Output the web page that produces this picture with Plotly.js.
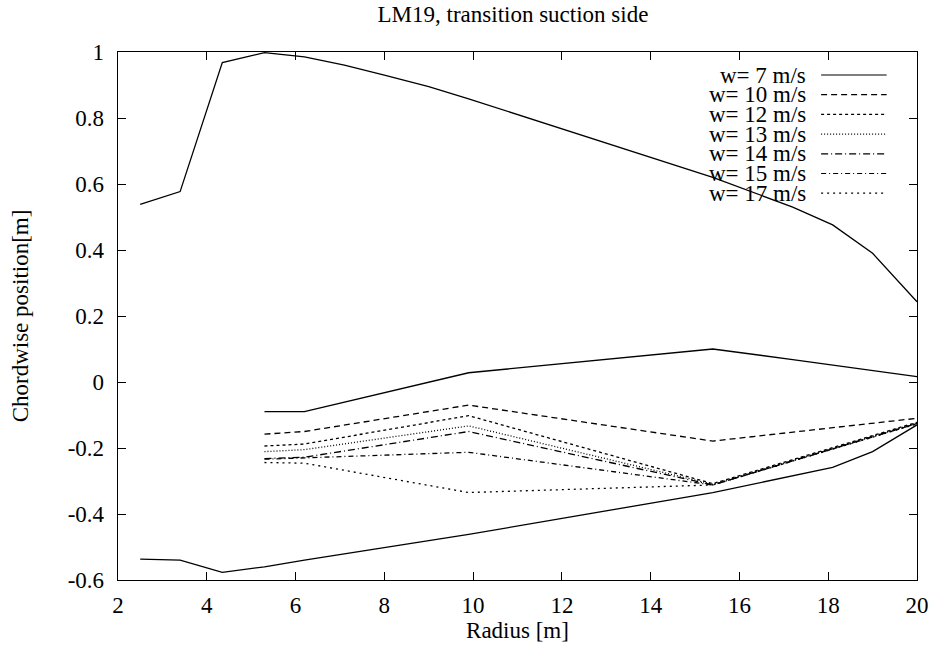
<!DOCTYPE html>
<html>
<head>
<meta charset="utf-8">
<script src="https://cdn.plot.ly/plotly-3.0.1.min.js"></script>
<style>body{margin:0;background:#fff}#chart{width:931px;height:659px}</style>
</head>
<body>
<div id="chart"></div>
<script>
// ---- data ----
const seriesNames = ["w= 7 m/s", "w= 10 m/s", "w= 12 m/s", "w= 13 m/s", "w= 14 m/s", "w= 15 m/s", "w= 17 m/s"];

// w = 7 m/s: three branches (upper, middle, lower)
const r7Upper = [2.5, 3.4, 4.35, 5.3, 6.2, 7.1, 8.0, 9.0, 9.9, 15.4, 17.2, 18.1, 19.0, 20];
const y7Upper = [0.538, 0.577, 0.968, 0.998, 0.985, 0.96, 0.93, 0.895, 0.858, 0.62, 0.53, 0.476, 0.39, 0.243];
const r7Middle = [5.3, 6.2, 9.9, 15.4, 17.2, 18.1, 19.0, 20];
const y7Middle = [-0.09, -0.09, 0.028, 0.100, 0.068, 0.052, 0.035, 0.016];
const r7Lower = [2.5, 3.4, 4.35, 5.3, 6.2, 7.1, 8.0, 9.0, 9.9, 15.4, 17.2, 18.1, 19.0, 20];
const y7Lower = [-0.537, -0.540, -0.577, -0.560, -0.540, -0.521, -0.502, -0.481, -0.462, -0.335, -0.285, -0.259, -0.211, -0.130];

// other wind speeds
const rOther = [5.3, 6.2, 9.9, 15.4, 20];
const y10 = [-0.158, -0.150, -0.070, -0.179, -0.110];
const y12 = [-0.194, -0.188, -0.102, -0.308, -0.122];
const y13 = [-0.211, -0.205, -0.133, -0.310, -0.124];
const y14 = [-0.232, -0.228, -0.150, -0.312, -0.125];
const y15 = [-0.234, -0.230, -0.213, -0.312, -0.126];
const y17 = [-0.244, -0.246, -0.335, -0.312, -0.127];

const xTickVals = [2, 4, 6, 8, 10, 12, 14, 16, 18, 20];
const yTickVals = [-0.6, -0.4, -0.2, 0, 0.2, 0.4, 0.6, 0.8, 1];
const yTickText = ["-0.6", "-0.4", "-0.2", "0", "0.2", "0.4", "0.6", "0.8", "1"];

// ---- styles ----
const dashes = ["solid", "6px,4px", "3px,3px", "1px,2px", "7px,3px,1px,3px", "5px,3px,1px,3px", "2px,4px"];
const FONT = "Liberation Serif";
const FS = 23;

const x7 = r7Upper.concat([null], r7Middle, [null], r7Lower);
const yy7 = y7Upper.concat([null], y7Middle, [null], y7Lower);
const otherY = [y10, y12, y13, y14, y15, y17];

const traces = [{
  x: x7, y: yy7, mode: "lines", name: seriesNames[0], connectgaps: false,
  line: {color: "#000", width: 1.3, dash: dashes[0]}, showlegend: false
}];
otherY.forEach((ys, i) => {
  traces.push({
    x: rOther, y: ys, mode: "lines", name: seriesNames[i + 1],
    line: {color: "#000", width: 1.3, dash: dashes[i + 1]}, showlegend: false
  });
});

// gnuplot-style legend: text right-aligned, sample line on the right
const annotations = [];
const shapes = [];
const legTop = 75, legStep = 19.7, plotTop = 52, plotH = 528;
seriesNames.forEach((nm, i) => {
  const yp = 1 - (legTop + i * legStep - plotTop) / plotH;
  annotations.push({
    xref: "paper", yref: "paper", x: 0.862, y: yp, xanchor: "right", yanchor: "middle",
    text: nm, showarrow: false, font: {family: FONT, size: FS, color: "#000"}, borderpad: 0
  });
  shapes.push({
    type: "line", xref: "paper", yref: "paper", x0: 0.880, x1: 0.962, y0: yp, y1: yp,
    line: {color: "#000", width: 1.2, dash: dashes[i]}
  });
});

const axisCommon = {
  showgrid: false, zeroline: false, showline: true, linecolor: "#000", linewidth: 1.3,
  mirror: "ticks", ticks: "inside", ticklen: 8, tickwidth: 1, tickcolor: "#000",
  tickfont: {family: FONT, size: FS, color: "#000"}
};

const layout = {
  width: 931, height: 659,
  margin: {l: 118, r: 14, t: 52, b: 79},
  paper_bgcolor: "#fff", plot_bgcolor: "#fff",
  font: {family: FONT},
  title: {text: "LM19, transition suction side", font: {family: FONT, size: FS, color: "#000"},
          x: 0.551, xanchor: "center", y: 0.979, yanchor: "middle"},
  xaxis: Object.assign({}, axisCommon, {
    range: [2, 20], tickvals: xTickVals, ticklabelstandoff: 4,
    title: {text: "Radius [m]", font: {family: FONT, size: FS, color: "#000"}, standoff: 4}
  }),
  yaxis: Object.assign({}, axisCommon, {
    range: [-0.6, 1], tickvals: yTickVals, ticktext: yTickText, ticklabelstandoff: 8,
    title: {text: "Chordwise position[m]", font: {family: FONT, size: FS, color: "#000"}, standoff: 32}
  }),
  showlegend: false,
  annotations: annotations,
  shapes: shapes
};

Plotly.newPlot("chart", traces, layout, {displayModeBar: false, staticPlot: true});
</script>
</body>
</html>
